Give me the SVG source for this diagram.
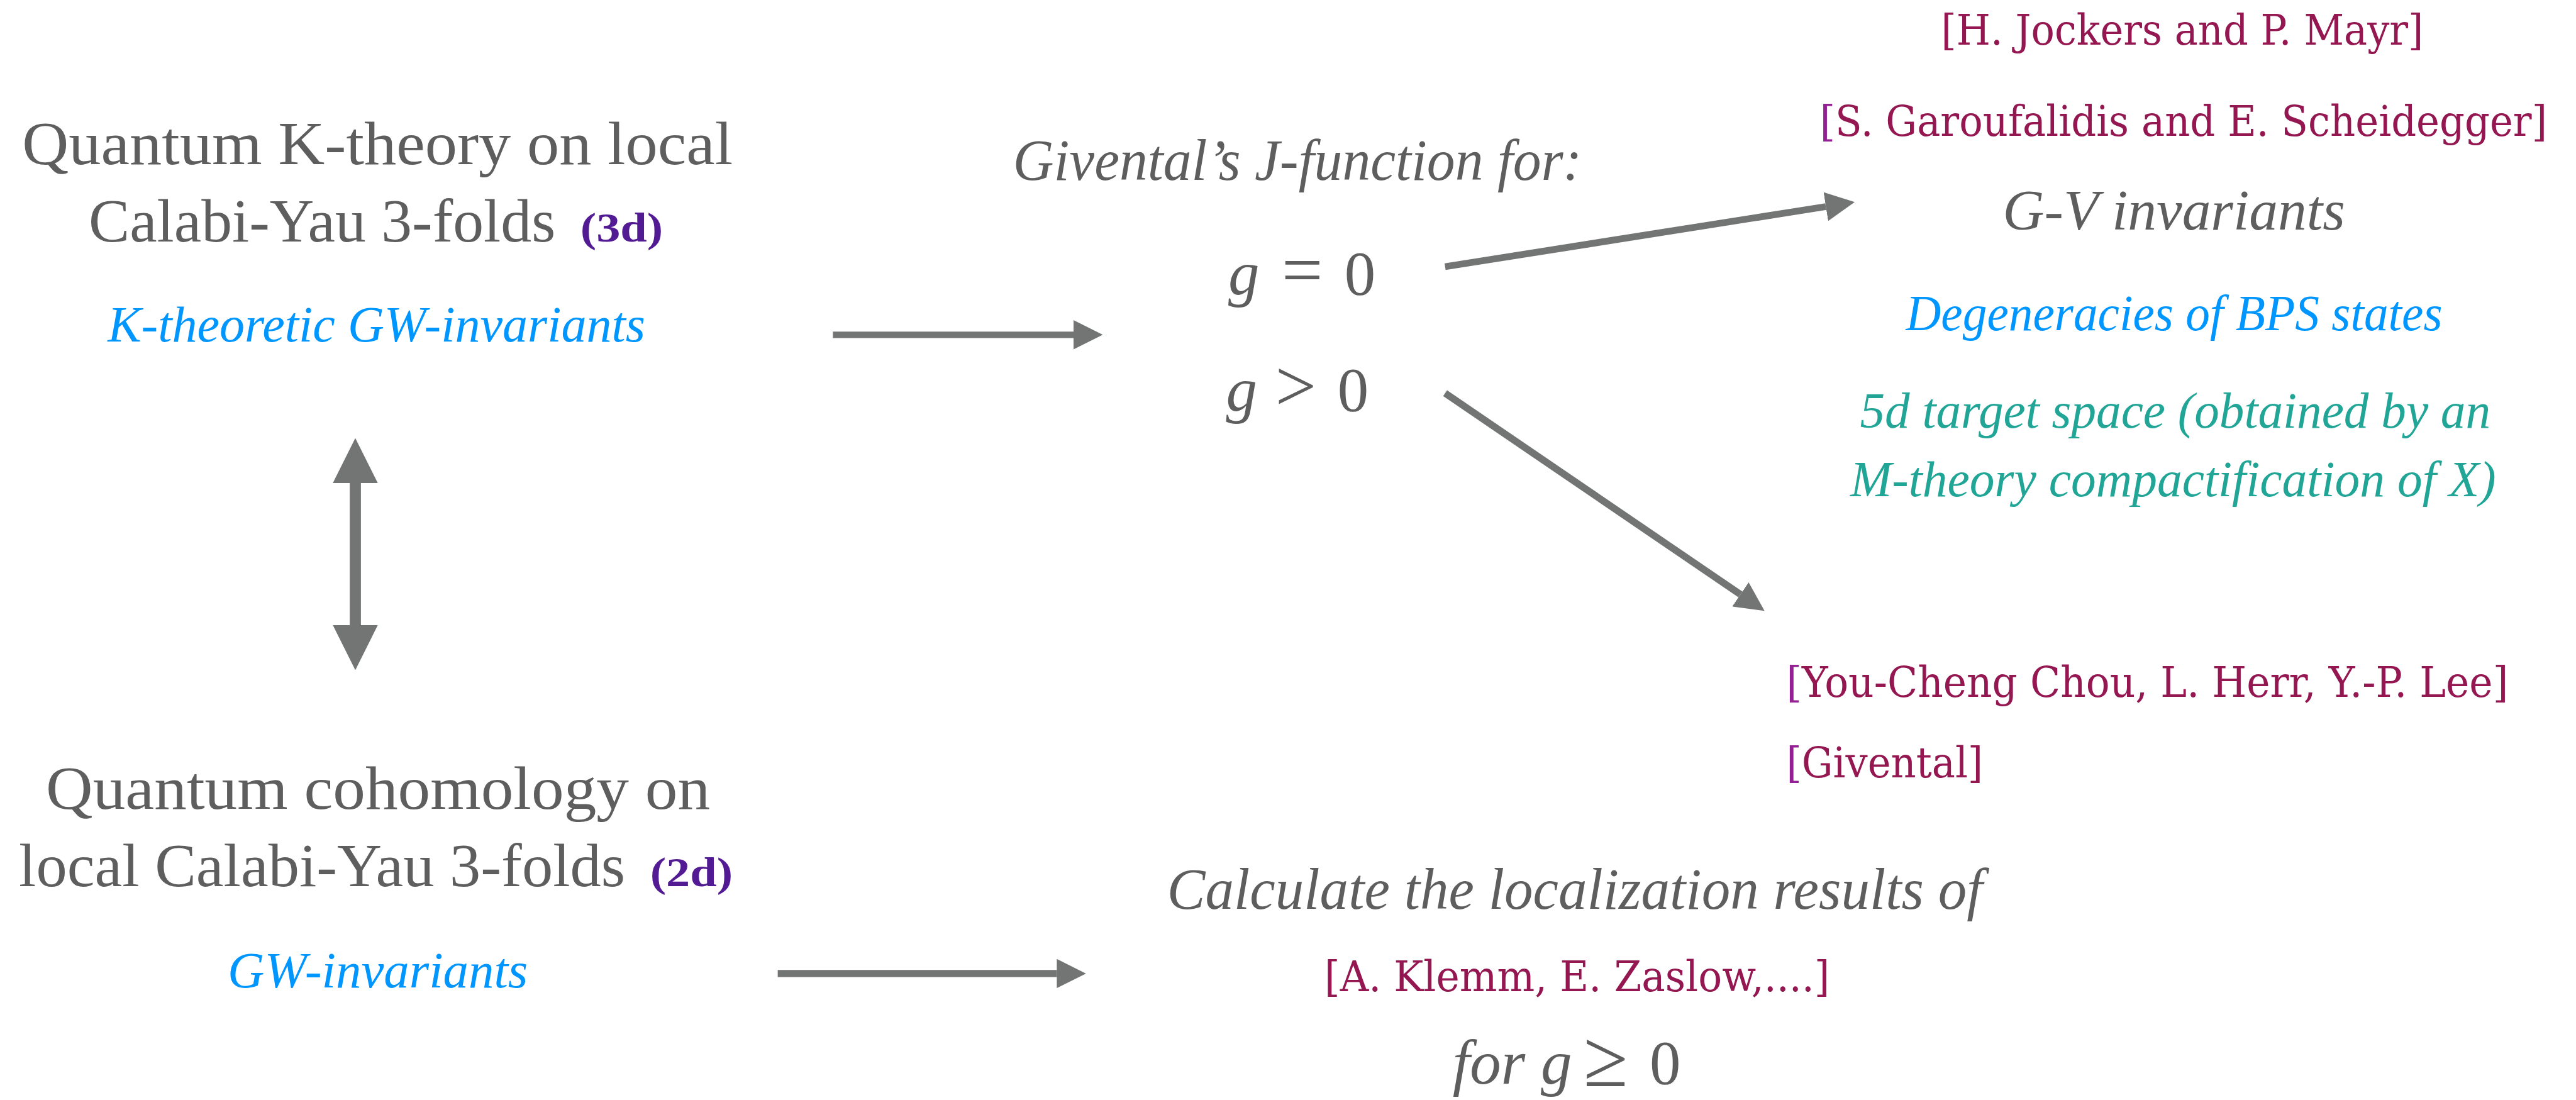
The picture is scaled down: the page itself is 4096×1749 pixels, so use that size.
<svg xmlns="http://www.w3.org/2000/svg" width="4096" height="1749" viewBox="0 0 4096 1749">
<style>
.main{font-family:"Liberation Serif",serif;font-size:113px;fill:#5e5e5e}
.it{font-family:"Liberation Serif",serif;font-style:italic;fill:#5e5e5e}
.blue{fill:#0096ff;font-size:94px}
.teal{fill:#21a596;font-size:94px}
.dim{font-family:"Liberation Serif",serif;font-weight:bold;font-size:76px;fill:#531b93}
.cite{font-family:"DejaVu Serif",serif;font-size:79px;fill:#941751}
.plum{fill:#942193}
.math{font-family:"Liberation Serif",serif;font-size:115px;fill:#5e5e5e}
.op{font-size:135px}
.conn{stroke:#737574;fill:none}
</style>
<defs>
<marker id="head" viewBox="0 0 54 54" markerWidth="54" markerHeight="54" markerUnits="userSpaceOnUse" refX="0" refY="27" orient="auto">
<path d="M0,0 L54,27 L0,54 Z" fill="#737574"/>
</marker>
<marker id="bighead" viewBox="0 0 83 83" markerWidth="83" markerHeight="83" markerUnits="userSpaceOnUse" refX="0" refY="41.5" orient="auto-start-reverse">
<path d="M0,0 L83,41.5 L0,83 Z" fill="#737574"/>
</marker>
</defs>
<rect width="4096" height="1749" fill="#ffffff"/>
<g transform="scale(0.85996)">
<g id="connectors">
<line class="conn" x1="1540" y1="619" x2="1985" y2="619" stroke-width="12" marker-end="url(#head)"/>
<line class="conn" x1="1438" y1="1800" x2="1954" y2="1800" stroke-width="13" marker-end="url(#head)"/>
<line class="conn" x1="2672" y1="493" x2="3376" y2="382" stroke-width="12.5" marker-end="url(#head)"/>
<line class="conn" x1="2672" y1="727" x2="3218" y2="1099" stroke-width="13" marker-end="url(#head)"/>
<line class="conn" x1="657" y1="893" x2="657" y2="1156" stroke-width="20.7" marker-start="url(#bighead)" marker-end="url(#bighead)"/>
</g>
<g id="node-ktheory">
<text class="main" x="41" y="303" textLength="1314" lengthAdjust="spacingAndGlyphs">Quantum K-theory on local</text>
<text class="main" x="164" y="447" textLength="863" lengthAdjust="spacingAndGlyphs">Calabi-Yau 3-folds</text>
<text class="dim" x="1073" y="447" textLength="153" lengthAdjust="spacingAndGlyphs">(3d)</text>
<text class="it blue" x="199" y="632" textLength="994" lengthAdjust="spacingAndGlyphs">K-theoretic GW-invariants</text>
</g>
<g id="node-cohomology">
<text class="main" x="85" y="1495" textLength="1228" lengthAdjust="spacingAndGlyphs">Quantum cohomology on</text>
<text class="main" x="35" y="1639" textLength="1121" lengthAdjust="spacingAndGlyphs">local Calabi-Yau 3-folds</text>
<text class="dim" x="1202" y="1639" textLength="153" lengthAdjust="spacingAndGlyphs">(2d)</text>
<text class="it blue" x="421" y="1826" textLength="555" lengthAdjust="spacingAndGlyphs">GW-invariants</text>
</g>
<g id="node-givental">
<text class="it" font-size="108" x="1873" y="332" textLength="1052" lengthAdjust="spacingAndGlyphs">Givental’s J-function for:</text>
<text class="math" y="544"><tspan x="2271" font-style="italic">g</tspan><tspan class="op" x="2370">=</tspan><tspan x="2486">0</tspan></text>
<text class="math" y="759"><tspan x="2267" font-style="italic">g</tspan><tspan class="op" x="2358">&gt;</tspan><tspan x="2473">0</tspan></text>
</g>
<g id="node-gv">
<text class="cite" transform="translate(3589,82) scale(0.9,1)" textLength="991" lengthAdjust="spacingAndGlyphs">[H. Jockers and P. Mayr]</text>
<text class="cite" transform="translate(3365,251) scale(0.9,1)" textLength="1494" lengthAdjust="spacingAndGlyphs"><tspan class="plum">[</tspan>S. Garoufalidis and E. Scheidegger]</text>
<text class="it" font-size="105" x="3703" y="424" textLength="633" lengthAdjust="spacingAndGlyphs">G-V invariants</text>
<text class="it blue" x="3524" y="611" textLength="992" lengthAdjust="spacingAndGlyphs">Degeneracies of BPS states</text>
<text class="it teal" x="3439" y="791" textLength="1166" lengthAdjust="spacingAndGlyphs">5d target space (obtained by an</text>
<text class="it teal" x="3421" y="918" textLength="1194" lengthAdjust="spacingAndGlyphs">M-theory compactification of X)</text>
</g>
<g id="node-higher-genus">
<text class="cite" transform="translate(3303,1288) scale(0.9,1)" textLength="1483" lengthAdjust="spacingAndGlyphs"><tspan class="plum">[</tspan>You-Cheng Chou, L. Herr, Y.-P. Lee]</text>
<text class="cite" transform="translate(3303,1437) scale(0.9,1)" textLength="404" lengthAdjust="spacingAndGlyphs"><tspan class="plum">[</tspan>Givental]</text>
</g>
<g id="node-localization">
<text class="it" font-size="108" x="2158" y="1680" textLength="1508" lengthAdjust="spacingAndGlyphs">Calculate the localization results of</text>
<text class="cite" transform="translate(2449,1833) scale(0.9,1)" textLength="1038" lengthAdjust="spacingAndGlyphs">[A. Klemm, E. Zaslow,....]</text>
<text class="math" y="2004"><tspan x="2686" font-style="italic">for g</tspan><tspan x="2928" font-size="150" dy="4">≥</tspan><tspan x="3050" dy="-4">0</tspan></text>
</g>
</g>
</svg>
